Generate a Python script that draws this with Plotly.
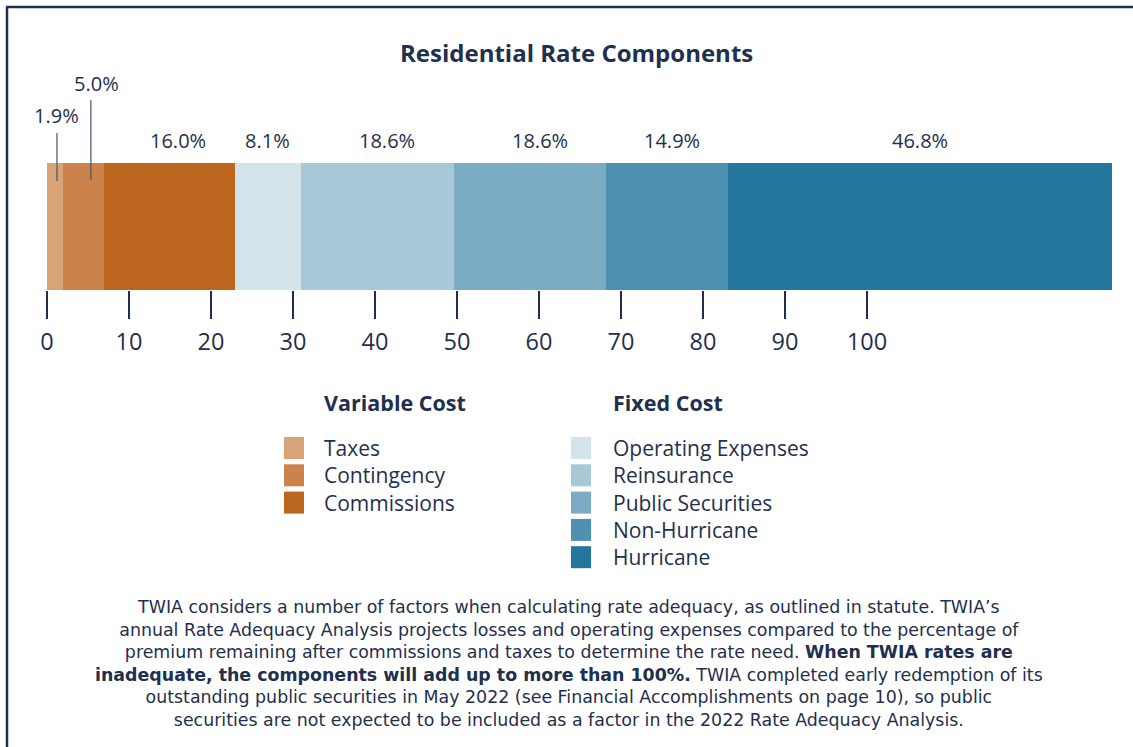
import plotly.graph_objects as go

# ---------------- data ----------------
categories = ["Taxes", "Contingency", "Commissions", "Operating Expenses",
              "Reinsurance", "Public Securities", "Non-Hurricane", "Hurricane"]
values = [1.9, 5.0, 16.0, 8.1, 18.6, 18.6, 14.9, 46.8]
groups = ["Variable Cost"] * 3 + ["Fixed Cost"] * 5
tick_vals = [0, 10, 20, 30, 40, 50, 60, 70, 80, 90, 100]
title_text = "Residential Rate Components"
footer_lines = [
    "TWIA considers a number of factors when calculating rate adequacy, as outlined in statute. TWIA’s",
    "annual Rate Adequacy Analysis projects losses and operating expenses compared to the percentage of",
    "premium remaining after commissions and taxes to determine the rate need. <b>When TWIA rates are</b>",
    "<b>inadequate, the components will add up to more than 100%.</b> TWIA completed early redemption of its",
    "outstanding public securities in May 2022 (see Financial Accomplishments on page 10), so public",
    "securities are not expected to be included as a factor in the 2022 Rate Adequacy Analysis.",
]

# ---------------- styles ----------------
colors = ["#D8A377", "#CB834B", "#BD661F", "#D3E3EA",
          "#A8C8D7", "#7BACC3", "#4F91B0", "#23769C"]
NAVY = "#1F2F4E"
FONT = "Open Sans"
FOOT_FONT = "DejaVu Sans"
W, H = 1133, 747
PX_PER_UNIT = 8.2
X_ZERO_PX = 47
label_xshift = [2, 13, 9, 0, 10, 10, 5, 0]
label_ypx = [115, 84, 140, 140, 140, 140, 140, 140]
leader = {0: (0.64, 133, 181), 1: (0.69, 100, 180)}  # frac of segment, y top, y bottom (px)
LEG_SIZE = 21
LEG_PITCH = 1.3 * LEG_SIZE


def py(p):
    return 1 - p / H


def pxx(p):
    return p / W


fig = go.Figure()
starts = []
acc = 0
for cat, val, col in zip(categories, values, colors):
    starts.append(acc)
    fig.add_trace(go.Bar(
        y=[0], x=[val], base=[acc], orientation="h", width=1,
        marker=dict(color=col, line=dict(width=0)), name=cat,
        showlegend=False, hoverinfo="name+x",
    ))
    acc += val

annotations = []
shapes = []

# value labels
for i, (s, v) in enumerate(zip(starts, values)):
    annotations.append(dict(
        x=s + v / 2, xref="x", y=py(label_ypx[i]), yref="paper",
        text=f"{v:.1f}%", showarrow=False, xshift=label_xshift[i],
        font=dict(family=FONT, size=20, color=NAVY),
        xanchor="center", yanchor="middle",
    ))

# leader lines
for i, (frac, yt, yb) in leader.items():
    xv = starts[i] + frac * values[i]
    shapes.append(dict(type="line", xref="x", yref="paper",
                       x0=xv, x1=xv, y0=py(yt), y1=py(yb),
                       line=dict(color="#46546E", width=1.2)))

# title
annotations.append(dict(
    x=pxx(577), y=py(53), xref="paper", yref="paper", text=f"<b>{title_text}</b>",
    showarrow=False, font=dict(family=FONT, size=24, color=NAVY),
    xanchor="center", yanchor="middle"))

# legend
col_x = {"Variable Cost": (284, 322), "Fixed Cost": (571, 611)}
for g, (sx, tx) in col_x.items():
    annotations.append(dict(
        x=pxx(tx), y=py(402), xref="paper", yref="paper", text=f"<b>{g}</b>",
        showarrow=False, font=dict(family=FONT, size=21.5, color=NAVY),
        xanchor="left", yanchor="middle"))
    names = [c for c, grp in zip(categories, groups) if grp == g]
    cols = [c for c, grp in zip(colors, groups) if grp == g]
    for row, col in enumerate(cols):
        cy = 448 + row * LEG_PITCH
        shapes.append(dict(type="rect", xref="paper", yref="paper",
                           x0=pxx(sx), x1=pxx(sx + 20), y0=py(cy - 11), y1=py(cy + 11),
                           fillcolor=col, line=dict(width=0)))
    mid = 448 + (len(names) - 1) * LEG_PITCH / 2
    annotations.append(dict(
        x=pxx(tx), y=py(mid), xref="paper", yref="paper", text="<br>".join(names),
        showarrow=False, font=dict(family=FONT, size=LEG_SIZE, color=NAVY),
        xanchor="left", yanchor="middle", align="left"))

# footer
annotations.append(dict(
    x=pxx(569), y=py(663.5), xref="paper", yref="paper", text="<br>".join(footer_lines),
    showarrow=False, font=dict(family=FOOT_FONT, size=17.4, color=NAVY),
    xanchor="center", yanchor="middle", align="center"))

# frame
shapes.append(dict(type="line", xref="paper", yref="paper",
                   x0=pxx(7), x1=pxx(7), y0=0, y1=py(7),
                   line=dict(color=NAVY, width=2.5)))
shapes.append(dict(type="line", xref="paper", yref="paper",
                   x0=pxx(6), x1=1, y0=py(7), y1=py(7),
                   line=dict(color=NAVY, width=2.5)))

x_min = -X_ZERO_PX / PX_PER_UNIT
x_max = (W - X_ZERO_PX) / PX_PER_UNIT

fig.update_layout(
    width=W, height=H,
    margin=dict(l=0, r=0, t=0, b=0),
    paper_bgcolor="white", plot_bgcolor="rgba(0,0,0,0)",
    barmode="stack", bargap=0,
    showlegend=False,
    annotations=annotations, shapes=shapes,
    xaxis=dict(range=[x_min, x_max], domain=[0, 1], tickvals=tick_vals,
               ticks="outside", ticklen=28, tickwidth=2, tickcolor=NAVY,
               ticklabelstandoff=3,
               showgrid=False, zeroline=False, showline=False,
               tickfont=dict(family=FONT, size=23.5, color=NAVY), fixedrange=True),
    yaxis=dict(range=[-0.5, 0.5], domain=[py(290), py(163)], visible=False,
               fixedrange=True),
)

fig.write_html("out.html", config={"displayModeBar": False},
               post_script="document.body.style.margin='0';document.body.style.overflow='hidden';")
